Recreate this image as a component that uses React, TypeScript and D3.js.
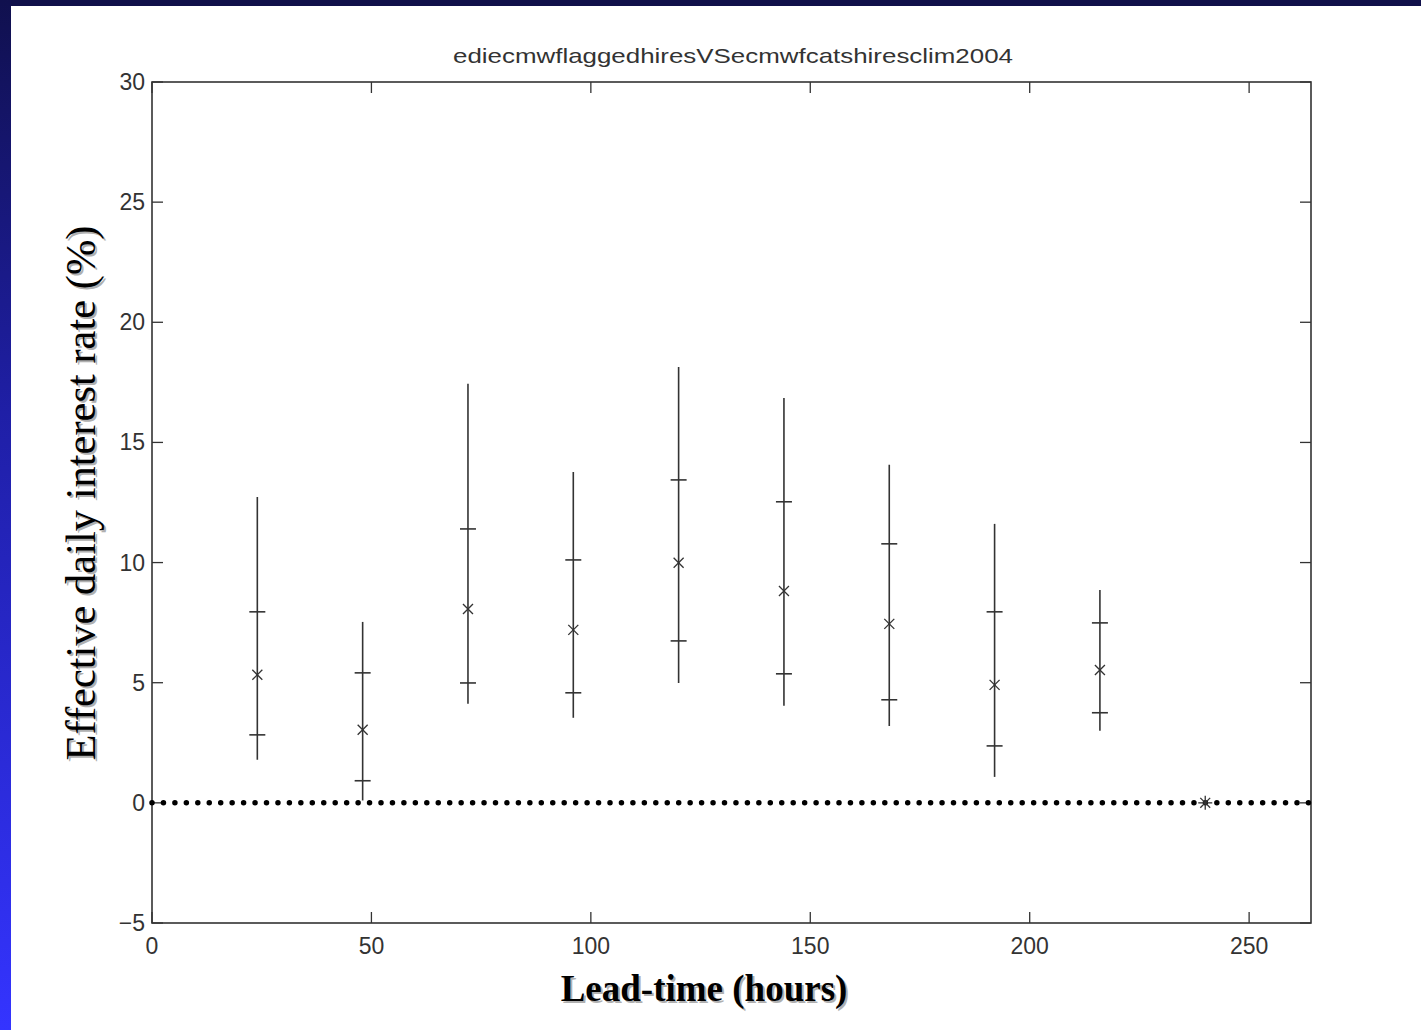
import React from "react";
import * as d3 from "d3";

// Lead times (hours) and the distribution of effective daily interest rate (%)
const leadTimes = [24, 48, 72, 96, 120, 144, 168, 192, 216];
const lowValues = [1.79, 0.1, 4.12, 3.54, 4.99, 4.04, 3.2, 1.08, 3.0];
const lowerQuartile = [2.83, 0.92, 4.99, 4.58, 6.74, 5.37, 4.29, 2.37, 3.75];
const meanValues = [5.33, 3.04, 8.07, 7.2, 9.99, 8.82, 7.45, 4.91, 5.53];
const upperQuartile = [7.95, 5.41, 11.4, 10.11, 13.44, 12.53, 10.78, 7.95, 7.49];
const highValues = [12.73, 7.53, 17.44, 13.77, 18.14, 16.85, 14.07, 11.61, 8.86];

// Final lead time with a single zero value
const finalLead = 240;
const finalValue = 0;

const xTicks = [0, 50, 100, 150, 200, 250];
const yTicks = [-5, 0, 5, 10, 15, 20, 25, 30];

const chartTitle = "ediecmwflaggedhiresVSecmwfcatshiresclim2004";
const xLabel = "Lead-time (hours)";
const yLabel = "Effective daily interest rate (%)";

const W = 1421;
const H = 1030;
const plot = { left: 152, right: 1311, top: 82, bottom: 923 };

export default function App() {
  const x = d3.scaleLinear().domain([0, 264.1]).range([plot.left, plot.right]);
  const y = d3.scaleLinear().domain([-5, 30]).range([plot.bottom, plot.top]);

  const ink = "#333";
  const tickLen = 11;
  const capHalf = 8;
  const xMark = 5;

  const zeroLine = d3.line<number>()
    .x((d) => x(d))
    .y(() => y(0));

  return (
    <svg
      width={W}
      height={H}
      style={{ position: "absolute", left: 0, top: 0, display: "block" }}
    >
      <defs>
        <linearGradient id="sideBand" x1="0" y1="0" x2="0" y2="1">
          <stop offset="0" stopColor="#10104e" />
          <stop offset="0.4" stopColor="#1f1fa6" />
          <stop offset="1" stopColor="#3434ff" />
        </linearGradient>
      </defs>
      <rect x={0} y={0} width={W} height={H} fill="#ffffff" />
      <rect x={0} y={0} width={W} height={6} fill="#10104a" />
      <rect x={0} y={0} width={11} height={H} fill="url(#sideBand)" />

      {/* title */}
      <text
        x={733}
        y={63}
        textAnchor="middle"
        fontFamily="Liberation Sans, Arial, sans-serif"
        fontSize={21}
        fill={ink}
        textLength={560}
        lengthAdjust="spacingAndGlyphs"
      >
        {chartTitle}
      </text>

      {/* axes box */}
      <rect
        x={plot.left}
        y={plot.top}
        width={plot.right - plot.left}
        height={plot.bottom - plot.top}
        fill="none"
        stroke={ink}
        strokeWidth={1.6}
      />

      {/* x ticks */}
      {xTicks.map((t) => (
        <g key={"xt" + t}>
          <line x1={x(t)} x2={x(t)} y1={plot.bottom} y2={plot.bottom - tickLen} stroke={ink} strokeWidth={1.3} />
          <line x1={x(t)} x2={x(t)} y1={plot.top} y2={plot.top + tickLen} stroke={ink} strokeWidth={1.3} />
          <text
            x={x(t)}
            y={954}
            textAnchor="middle"
            fontFamily="Liberation Sans, Arial, sans-serif"
            fontSize={23}
            fill={ink}
          >
            {t}
          </text>
        </g>
      ))}

      {/* y ticks */}
      {yTicks.map((t) => (
        <g key={"yt" + t}>
          <line x1={plot.left} x2={plot.left + tickLen} y1={y(t)} y2={y(t)} stroke={ink} strokeWidth={1.3} />
          <line x1={plot.right} x2={plot.right - tickLen} y1={y(t)} y2={y(t)} stroke={ink} strokeWidth={1.3} />
          <text
            x={plot.left - 7}
            y={y(t) + 8}
            textAnchor="end"
            fontFamily="Liberation Sans, Arial, sans-serif"
            fontSize={23}
            fill={ink}
          >
            {t < 0 ? "\u2212" + Math.abs(t) : t}
          </text>
        </g>
      ))}

      {/* dotted zero line */}
      <path
        d={zeroLine([0, 264.1]) || ""}
        fill="none"
        stroke="#000"
        strokeWidth={5.5}
        strokeLinecap="round"
        strokeDasharray="0 11.45"
      />

      {/* whiskers, quartile caps and mean markers */}
      {leadTimes.map((lt, i) => {
        const cx = x(lt);
        const my = y(meanValues[i]);
        return (
          <g key={"e" + lt} stroke={ink} strokeWidth={1.6}>
            <line x1={cx} x2={cx} y1={y(lowValues[i])} y2={y(highValues[i])} />
            <line x1={cx - capHalf} x2={cx + capHalf} y1={y(upperQuartile[i])} y2={y(upperQuartile[i])} />
            <line x1={cx - capHalf} x2={cx + capHalf} y1={y(lowerQuartile[i])} y2={y(lowerQuartile[i])} />
            <line x1={cx - xMark} x2={cx + xMark} y1={my - xMark} y2={my + xMark} strokeWidth={1.3} />
            <line x1={cx - xMark} x2={cx + xMark} y1={my + xMark} y2={my - xMark} strokeWidth={1.3} />
          </g>
        );
      })}

      {/* asterisk at final lead time */}
      <g stroke={ink} strokeWidth={1.3}>
        {[0, 45, 90, 135].map((a) => {
          const r = 7;
          const rad = (a * Math.PI) / 180;
          const cx = x(finalLead);
          const cy = y(finalValue);
          return (
            <line
              key={"a" + a}
              x1={cx - r * Math.cos(rad)}
              x2={cx + r * Math.cos(rad)}
              y1={cy - r * Math.sin(rad)}
              y2={cy + r * Math.sin(rad)}
            />
          );
        })}
      </g>

      {/* x axis label with shadow */}
      {[{ dx: 2, dy: 2, fill: "#b0b0b0" }, { dx: 0, dy: 0, fill: "#000" }].map((s, k) => (
        <text
          key={"xl" + k}
          x={704 + s.dx}
          y={1001 + s.dy}
          textAnchor="middle"
          fontFamily="Liberation Serif, Times New Roman, serif"
          fontWeight="bold"
          fontSize={37}
          fill={s.fill}
        >
          {xLabel}
        </text>
      ))}

      {/* y axis label with shadow */}
      {[{ dx: 2, dy: 2, fill: "#b0b0b0" }, { dx: 0, dy: 0, fill: "#000" }].map((s, k) => (
        <text
          key={"yl" + k}
          transform={`translate(${95 + s.dx},${493 + s.dy}) rotate(-90)`}
          textAnchor="middle"
          fontFamily="Liberation Serif, Times New Roman, serif"
          fontSize={42.5}
          fill={s.fill}
        >
          {yLabel}
        </text>
      ))}
    </svg>
  );
}
